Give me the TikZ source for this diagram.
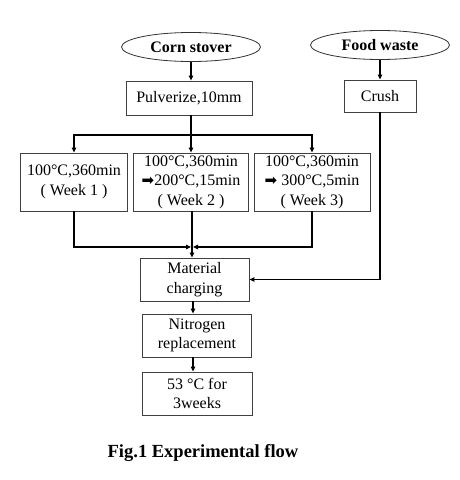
\documentclass[tikz,border=0pt]{standalone}
\usepackage{fontspec}
\setmainfont{Liberation Serif}
\newfontfamily\dejavu{DejaVu Sans}
\usetikzlibrary{shapes.geometric,arrows.meta}
\begin{document}
\begin{tikzpicture}[x=1pt,y=-1pt,
  every node/.style={font=\fontsize{16}{19.5}\selectfont, align=center, inner sep=0pt},
  oval/.style={ellipse, draw=black!80, line width=0.8pt, minimum width=139pt, minimum height=29pt, font=\fontsize{16}{19}\selectfont\bfseries},
  box/.style={rectangle, draw=black!75, line width=0.9pt},
  arr/.style={-{Triangle[length=5pt,width=4.5pt]}, line width=1.3pt},
  ln/.style={line width=1.3pt}]
\useasboundingbox (0,0) rectangle (460,480);
\fill[white] (0,0) rectangle (460,480);
% sources
\node[oval] (corn) at (191,47) {Corn stover};
\node[oval] (food) at (380,45) {Food waste};
\node[box, minimum width=126pt, minimum height=34pt] (pulv) at (189,98) {Pulverize,10mm};
\node[box, minimum width=72pt, minimum height=32pt] (crush) at (380,96) {Crush};
% three treatments
\node[box, minimum width=107pt, minimum height=58pt] (b1) at (74,182) {100°C,360min\\( Week 1 )};
\node[box, minimum width=115pt, minimum height=58pt] (b2) at (191,182) {100°C,360min\\{\dejavu\fontsize{15}{19.5}\selectfont ➡}200°C,15min\\( Week 2 )};
\node[box, minimum width=116pt, minimum height=58pt] (b3) at (312,182) {100°C,360min\\{\dejavu\fontsize{15}{19.5}\selectfont ➡} 300°C,5min\\( Week 3)};
% process chain
\node[box, minimum width=109pt, minimum height=43pt] (mat) at (194.5,279.5) {Material\\charging};
\node[box, minimum width=109pt, minimum height=43pt] (nit) at (197,335.5) {Nitrogen\\replacement};
\node[box, minimum width=110pt, minimum height=43pt] (tmp) at (197,393.5) {53 °C for\\3weeks};
\node[font=\fontsize{18.5}{22}\selectfont\bfseries] (cap) at (203,453) {Fig.1 Experimental flow};
% connectors
\coordinate (br) at (191,135);
\coordinate (mg) at (192,247);
\draw[arr] (corn) -- (corn |- pulv.north);
\draw[arr] (food) -- (crush);
\draw[ln] (pulv.south -| br) -- (br);
\draw[arr] (br) -| (b1.north);
\draw[arr] (br) -- (b2.north);
\draw[arr] (br) -| (b3.north);
\draw[arr] (b1.south) |- ([xshift=-1pt]mg);
\draw[arr] (b3.south) |- ([xshift=1pt]mg);
\draw[arr] (b2.south -| mg) -- (mg |- mat.north);
\draw[arr] (crush.south) |- (mat.east);
\draw[arr] (mat.south -| 193,0) -- (nit.north -| 193,0);
\draw[arr] (nit.south -| 193,0) -- (tmp.north -| 193,0);
\end{tikzpicture}
\end{document}
